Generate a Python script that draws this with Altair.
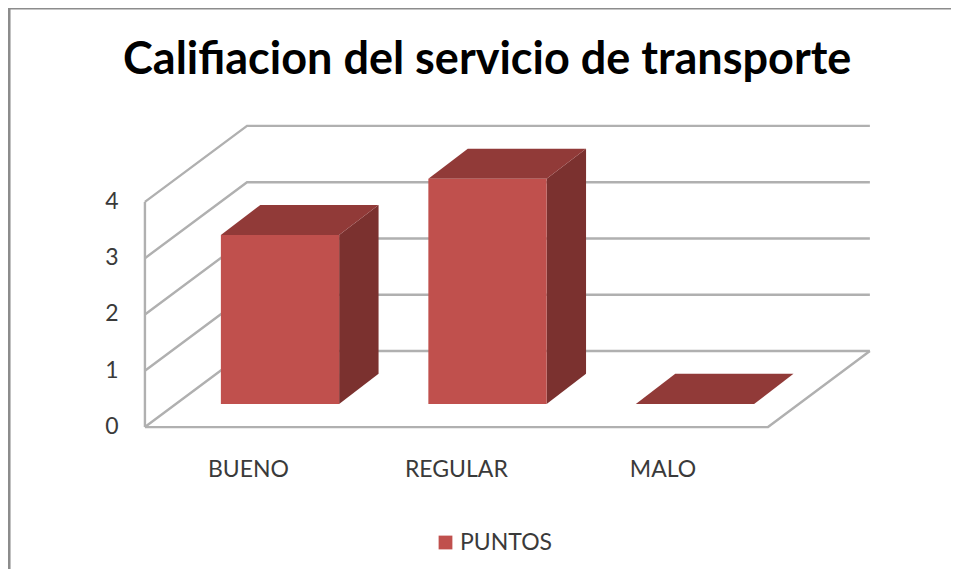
import altair as alt
import pandas as pd

# Chart values
categories = ["BUENO", "REGULAR", "MALO"]
puntos = [3, 4, 0]
levels = [0, 1, 2, 3, 4]
series_name = "PUNTOS"
title_text = "Califiacion del servicio de transporte"

# Pseudo-3D geometry, in data units (category slots / value units)
HALF_BAR = 0.285
DEPTH_X, DEPTH_Y = 0.19, 0.535
FLOOR_FRONT_X, WALL_BACK_X, WALL_END_X = -0.651, -0.159, 2.843
FLOOR_END_X = 2.352
FRONT_DY, BACK_DY = -0.41, 0.94
X_DOMAIN = [-1.311, 3.234]
Y_DOMAIN = [-2.931, 7.034]

x_scale = alt.Scale(domain=X_DOMAIN, nice=False, zero=False)
y_scale = alt.Scale(domain=Y_DOMAIN, nice=False, zero=False)
X = alt.X("x:Q", scale=x_scale, axis=None)
Y = alt.Y("y:Q", scale=y_scale, axis=None)

front, top, side = [], [], []
for i, (c, v) in enumerate(zip(categories, puntos)):
    x0, x1 = i - HALF_BAR, i + HALF_BAR
    front.append(dict(cat=c, x=x0, x2=x1, y=0, y2=v, serie=series_name))
    top += [
        dict(cat=c, x=x0, y=v, yb=v),
        dict(cat=c, x=x0 + DEPTH_X, y=v + DEPTH_Y, yb=v),
        dict(cat=c, x=x1, y=v + DEPTH_Y, yb=v),
        dict(cat=c, x=x1 + DEPTH_X, y=v + DEPTH_Y, yb=v + DEPTH_Y),
    ]
    side += [
        dict(cat=c, x=x1, y=v, yb=0),
        dict(cat=c, x=x1 + DEPTH_X, y=v + DEPTH_Y, yb=DEPTH_Y),
    ]

grid = []
for l in levels:
    grid += [
        dict(path=f"l{l}", o=0, x=FLOOR_FRONT_X, y=l + FRONT_DY),
        dict(path=f"l{l}", o=1, x=WALL_BACK_X, y=l + BACK_DY),
        dict(path=f"l{l}", o=2, x=WALL_END_X, y=l + BACK_DY),
    ]
grid += [
    dict(path="floor", o=0, x=FLOOR_FRONT_X, y=FRONT_DY),
    dict(path="floor", o=1, x=FLOOR_END_X, y=FRONT_DY),
    dict(path="floor", o=2, x=WALL_END_X, y=BACK_DY),
    dict(path="wall", o=0, x=FLOOR_FRONT_X, y=FRONT_DY),
    dict(path="wall", o=1, x=FLOOR_FRONT_X, y=levels[-1] + FRONT_DY),
]

LINE = "#B0B0B0"
grid_layer = alt.Chart(pd.DataFrame(grid)).mark_line(color=LINE, strokeWidth=2.4).encode(
    x=X, y=Y, detail="path:N", order="o:Q")

top_layer = alt.Chart(pd.DataFrame(top)).mark_area(color="#913A38", orient="vertical").encode(
    x=X, y=Y, y2="yb:Q", detail="cat:N")
side_layer = alt.Chart(pd.DataFrame(side)).mark_area(color="#7B312F", orient="vertical").encode(
    x=X, y=Y, y2="yb:Q", detail="cat:N")

front_layer = alt.Chart(pd.DataFrame(front)).mark_rect().encode(
    x=X, x2="x2:Q", y=Y, y2="y2:Q",
    color=alt.Color(
        "serie:N",
        scale=alt.Scale(domain=[series_name], range=["#C0504D"]),
        legend=alt.Legend(
            title=None, orient="none", legendX=426, legendY=523,
            symbolType="square", symbolSize=190, symbolStrokeWidth=0,
            labelFont="Lato", labelFontSize=23, labelColor="#3A3A3A", labelOffset=3,
        ),
    ),
)

FONT = dict(font="Lato", fontSize=23, color="#3A3A3A")
tick_df = pd.DataFrame({"t": levels, "x": [-0.81] * 5, "y": [l + FRONT_DY for l in levels]})
tick_layer = alt.Chart(tick_df).mark_text(align="center", baseline="middle", **FONT).encode(
    x=X, y=Y, text="t:N")

cat_df = pd.DataFrame({"t": categories, "x": [-0.152, 0.85, 1.846], "y": [-1.17] * 3})
cat_layer = alt.Chart(cat_df).mark_text(align="center", baseline="middle", **FONT).encode(
    x=X, y=Y, text="t:N")

frame_df = pd.DataFrame({"x": [X_DOMAIN[0] + 0.005, X_DOMAIN[0] + 0.005, X_DOMAIN[1]],
                         "y": [Y_DOMAIN[0], Y_DOMAIN[1], Y_DOMAIN[1]], "o": [0, 1, 2]})
frame_layer = alt.Chart(frame_df).mark_line(color="#8C8C8C", strokeWidth=3).encode(
    x=X, y=Y, order="o:Q")

chart = alt.layer(
    frame_layer, grid_layer, side_layer, top_layer, front_layer, tick_layer, cat_layer
).properties(
    width=943, height=561, padding=0, autosize=alt.AutoSizeParams(type="none"),
    background="white",
    title=alt.TitleParams(
        title_text, font="Lato", fontSize=45, fontWeight="bold", color="#000000",
        anchor="start", offset=0, dx=120, dy=117, baseline="alphabetic", orient="top",
    ),
).configure_view(stroke=None)

chart.save("out.html", embed_options={"renderer": "svg", "actions": False})
